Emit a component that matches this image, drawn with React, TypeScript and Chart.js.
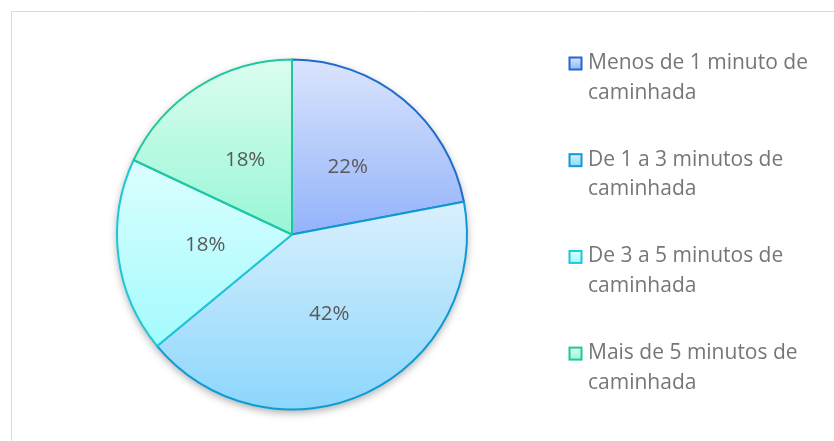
import React, { useEffect, useRef } from "react";
import { Chart, registerables } from "chart.js";

Chart.register(...registerables);

const categories = [
  "Menos de 1 minuto de caminhada",
  "De 1 a 3 minutos de caminhada",
  "De 3 a 5 minutos de caminhada",
  "Mais de 5 minutos de caminhada",
];
const values = [22, 42, 18, 18];
const fillTop = ["#dbe4fd", "#daf0fd", "#dcfefe", "#dcfdef"];
const fillBottom = ["#93b3fa", "#8cd6fc", "#a3fbfd", "#97f6d6"];
const borderColors = ["#1f6bc9", "#0e9bd5", "#1fc6d6", "#1ec79e"];

const FONT = "'Open Sans', 'Noto Sans', sans-serif";

function sliceYRange(area: any, index: number): [number, number] {
  const cx = (area.left + area.right) / 2;
  const cy = (area.top + area.bottom) / 2;
  const r = Math.min(area.right - area.left, area.bottom - area.top) / 2;
  const total = values.reduce((a, b) => a + b, 0);
  let start = -Math.PI / 2;
  for (let i = 0; i < index; i++) start += (values[i] / total) * Math.PI * 2;
  const end = start + (values[index] / total) * Math.PI * 2;
  const ys = [cy, cy + r * Math.sin(start), cy + r * Math.sin(end)];
  for (let k = -2; k <= 3; k++) {
    const a = Math.PI / 2 + k * Math.PI;
    if (a > start && a < end) ys.push(cy + r * Math.sin(a));
  }
  return [Math.min(...ys), Math.max(...ys)];
}

function wrap(ctx: CanvasRenderingContext2D, text: string, maxW: number): string[] {
  const words = text.split(" ");
  const lines: string[] = [];
  let cur = "";
  for (const w of words) {
    const test = cur ? cur + " " + w : w;
    if (ctx.measureText(test).width > maxW && cur) {
      lines.push(cur);
      cur = w;
    } else cur = test;
  }
  if (cur) lines.push(cur);
  return lines;
}

const framePlugin = {
  id: "frame",
  beforeDraw(chart: any) {
    const ctx = chart.ctx;
    ctx.save();
    ctx.strokeStyle = "#d9d9d9";
    ctx.lineWidth = 1;
    ctx.beginPath();
    ctx.moveTo(11.5, chart.height);
    ctx.lineTo(11.5, 11.5);
    ctx.lineTo(chart.width, 11.5);
    ctx.stroke();
    ctx.restore();
  },
  beforeDatasetsDraw(chart: any) {
    const area = chart.chartArea;
    const ctx = chart.ctx;
    const cx = (area.left + area.right) / 2;
    const cy = (area.top + area.bottom) / 2;
    const r = Math.min(area.right - area.left, area.bottom - area.top) / 2;
    ctx.save();
    ctx.shadowColor = "rgba(0,0,0,0.35)";
    ctx.shadowBlur = 8;
    ctx.shadowOffsetY = 3;
    ctx.fillStyle = "#ffffff";
    ctx.beginPath();
    ctx.arc(cx, cy, r - 1, 0, Math.PI * 2);
    ctx.fill();
    ctx.restore();
  },
  afterDraw(chart: any) {
    const ctx = chart.ctx;
    const meta = chart.getDatasetMeta(0);
    const total = values.reduce((a, b) => a + b, 0);
    ctx.save();
    // data labels
    ctx.font = `20.5px ${FONT}`;
    ctx.fillStyle = "#595959";
    ctx.textAlign = "center";
    ctx.textBaseline = "middle";
    meta.data.forEach((arc: any, i: number) => {
      const p = arc.getCenterPoint();
      ctx.fillText(Math.round((values[i] / total) * 100) + "%", p.x, p.y);
    });
    // legend
    ctx.font = `21px ${FONT}`;
    ctx.textAlign = "left";
    ctx.textBaseline = "alphabetic";
    categories.forEach((label, i) => {
      const base = 69 + i * 96.7;
      const cyBox = base - 5.5;
      const g = ctx.createLinearGradient(0, cyBox - 6, 0, cyBox + 6);
      g.addColorStop(0, fillTop[i]);
      g.addColorStop(1, fillBottom[i]);
      ctx.fillStyle = g;
      ctx.fillRect(569.5, cyBox - 6, 12, 12);
      ctx.strokeStyle = borderColors[i];
      ctx.lineWidth = 2;
      ctx.strokeRect(569.5, cyBox - 6, 12, 12);
      ctx.fillStyle = "#767676";
      const lines = wrap(ctx, label, 238);
      lines.forEach((ln, j) => ctx.fillText(ln, 588, base + j * 29.5));
    });
    ctx.restore();
  },
};

export default function App() {
  const ref = useRef<HTMLCanvasElement | null>(null);
  useEffect(() => {
    if (!ref.current) return;
    const chart = new Chart(ref.current, {
      type: "pie",
      data: {
        labels: categories,
        datasets: [
          {
            data: values,
            backgroundColor: (c: any) => {
              const i = c.dataIndex;
              const area = c.chart.chartArea;
              if (i === undefined || !area) return fillBottom[0];
              const [y0, y1] = sliceYRange(area, i);
              const g = c.chart.ctx.createLinearGradient(0, y0, 0, y1);
              g.addColorStop(0, fillTop[i]);
              g.addColorStop(1, fillBottom[i]);
              return g;
            },
            borderColor: borderColors,
            borderWidth: 2,
          },
        ],
      },
      options: {
        responsive: false,
        animation: false,
        layout: { padding: { left: 116, right: 366, top: 58, bottom: 30 } },
        plugins: {
          legend: { display: false },
          tooltip: { enabled: false },
        },
      },
      plugins: [framePlugin],
    });
    return () => chart.destroy();
  }, []);
  return (
    <div style={{ position: "fixed", left: 0, top: 0, width: 834, height: 441, background: "#fff" }}>
      <canvas ref={ref} width={834} height={441} style={{ width: 834, height: 441, display: "block" }} />
    </div>
  );
}
